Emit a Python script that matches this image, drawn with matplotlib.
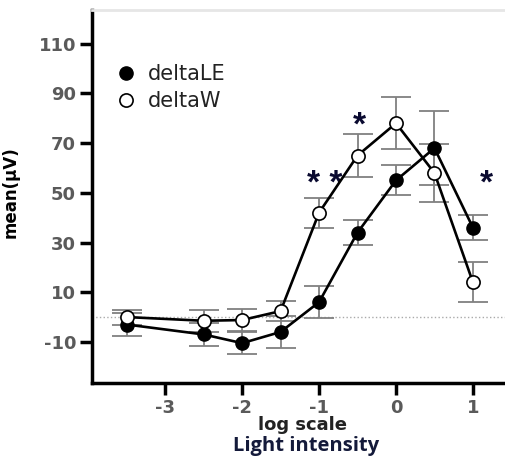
#!/usr/bin/env python3
"""
Mean response (deltaLE vs deltaW) against log light intensity.
"""

import matplotlib.pyplot as plt

# values
log_intensity = [-3.5, -2.5, -2.0, -1.5, -1.0, -0.5, 0.0, 0.5, 1.0]

delta_le = [-3.0, -7.0, -10.5, -6.0, 6.0, 34.0, 55.0, 68.0, 36.0]
delta_le_err = [4.5, 4.7, 4.5, 6.5, 6.5, 5.0, 6.0, 15.0, 5.0]

delta_w = [0.0, -1.5, -1.2, 2.4, 42.0, 65.0, 78.0, 58.0, 14.0]
delta_w_err = [3.0, 4.4, 4.4, 4.0, 6.0, 8.6, 10.5, 11.5, 8.0]

y_ticks = [-10, 10, 30, 50, 70, 90, 110]
x_ticks = [-3, -2, -1, 0, 1]

# significance marks: (x, y, text)
stars = [(-0.93, 53.5, '* *'), (-0.48, 77, '*'), (1.18, 53.5, '*')]

main_font = 'DejaVu Sans'


def main():
    fig = plt.figure(figsize=(5.06, 4.63), dpi=100)
    ax = fig.add_axes([0.182, 0.173, 0.818, 0.805])

    # zero reference line
    ax.axhline(0, color='#aaaaaa', linestyle=':', linewidth=1, zorder=1)

    ax.errorbar(log_intensity, delta_le, yerr=delta_le_err, fmt='none',
                ecolor='#808080', elinewidth=1.3, capsize=11, capthick=1.3, zorder=2)
    ax.errorbar(log_intensity, delta_w, yerr=delta_w_err, fmt='none',
                ecolor='#808080', elinewidth=1.3, capsize=11, capthick=1.3, zorder=2)

    ax.plot(log_intensity, delta_le, color='black', linewidth=1.9, marker='o',
            markersize=9.5, markerfacecolor='black', markeredgecolor='black',
            label='deltaLE', zorder=3)
    ax.plot(log_intensity, delta_w, color='black', linewidth=1.9, marker='o',
            markersize=9.5, markerfacecolor='white', markeredgecolor='black',
            markeredgewidth=1.2, label='deltaW', zorder=4)

    for x, y, s in stars:
        ax.text(x, y, s, ha='center', va='center', fontsize=24, fontweight='bold',
                color='#0a0a30', family='Liberation Sans')

    ax.set_xlim(-3.95, 1.43)
    ax.set_ylim(-26.5, 123.5)
    ax.set_xticks(x_ticks)
    ax.set_yticks(y_ticks)
    ax.set_xticklabels([str(t) for t in x_ticks])
    ax.set_yticklabels([str(t) for t in y_ticks])

    for lab in ax.get_xticklabels() + ax.get_yticklabels():
        lab.set_family(main_font)
        lab.set_fontsize(13)
        lab.set_color('#5a5a5a')
        lab.set_fontweight('bold')

    ax.tick_params(direction='out', length=8.5, width=2.5, color='black', pad=3)

    ax.spines['left'].set_linewidth(2.5)
    ax.spines['bottom'].set_linewidth(2.5)
    ax.spines['right'].set_visible(False)
    ax.spines['top'].set_color('#e6e6e6')
    ax.spines['top'].set_linewidth(2)

    ax.set_ylabel('mean(\u00b5V)', fontsize=12, fontweight='bold', family=main_font)
    ax.yaxis.set_label_coords(-0.174, 0.512)

    leg = ax.legend(loc='upper left', bbox_to_anchor=(0.022, 0.905), frameon=False,
                    handlelength=0.6, handletextpad=0.75, labelspacing=0.33,
                    prop={'family': main_font, 'size': 15})
    for h in leg.legend_handles:
        h.set_linestyle('none')
    for t in leg.get_texts():
        t.set_color('#222222')

    fig.text(0.597, 0.082, 'log scale', ha='center', va='center', fontsize=13,
             fontweight='bold', family=main_font, color='#222222')
    fig.text(0.604, 0.037, 'Light intensity', ha='center', va='center', fontsize=14.5,
             fontweight='bold', family='Open Sans', color='#141a3a')

    fig.savefig('out.png', dpi=100)


if __name__ == '__main__':
    main()
